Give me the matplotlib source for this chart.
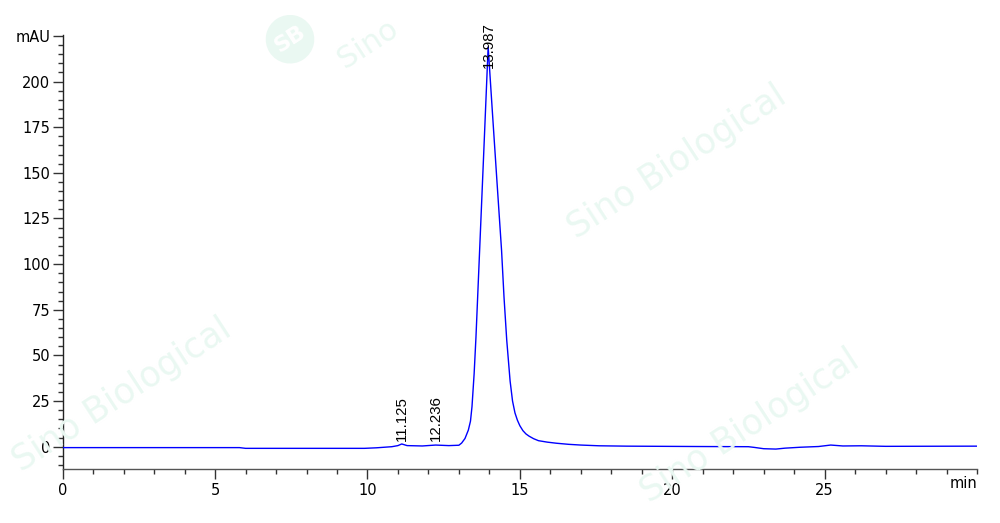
import matplotlib
matplotlib.use("Agg")
import matplotlib.pyplot as plt
from matplotlib.ticker import MultipleLocator, FixedLocator

# Chromatogram trace (time in min, absorbance in mAU)
time_min = [0.0, 5.8, 6.0, 9.9, 10.3, 10.8, 11.0, 11.125, 11.3, 11.8, 12.236,
            12.67, 13.0, 13.09, 13.2, 13.31, 13.38, 13.43, 13.5, 13.56, 13.68,
            13.82, 13.96, 14.10, 14.25, 14.40, 14.48, 14.57, 14.68, 14.76,
            14.84, 14.92, 15.0, 15.1, 15.2, 15.3, 15.45, 15.61, 15.9, 16.2,
            16.6, 17.0, 17.6, 18.5, 20.85, 22.5, 22.7, 23.0, 23.4, 23.7, 24.2,
            24.8, 25.2, 25.6, 26.2, 27.0, 30.0]
signal_mau = [-0.5, -0.5, -0.9, -0.9, -0.6, 0.0, 0.6, 1.5, 0.6, 0.4, 0.9,
              0.6, 0.8, 2.0, 4.5, 9.1, 14.0, 22.0, 40.0, 60.0, 107.5,
              163.0, 219.0, 183.0, 145.0, 107.5, 82.0, 58.3, 36.0, 25.0,
              18.5, 14.5, 11.5, 8.8, 7.0, 5.8, 4.4, 3.3, 2.5, 1.9,
              1.3, 0.9, 0.5, 0.3, 0.1, 0.0, -0.4, -1.1, -1.3, -0.8, -0.3,
              0.1, 0.9, 0.4, 0.5, 0.2, 0.3]

peak_times = [11.125, 12.236, 13.987]
peak_labels = ["11.125", "12.236", "13.987"]
label_heights = [3.2, 3.2, 207.5]

y_ticks = [0, 25, 50, 75, 100, 125, 150, 175, 200, 225]
y_tick_labels = ["0", "25", "50", "75", "100", "125", "150", "175", "200", "mAU"]
x_ticks = [0, 5, 10, 15, 20, 25]
x_tick_labels = ["0", "5", "10", "15", "20", "25"]

fig = plt.figure(figsize=(10, 5.23), dpi=100)
ax = fig.add_axes([0.0627, 0.1033, 0.977 - 0.0627, 0.9331 - 0.1033])

# Watermarks
wm_color = "#eaf8f2"
wm = dict(color=wm_color, rotation=33, ha="center", va="center",
          family="DejaVu Sans", zorder=0, transform=fig.transFigure)
fig.text(0.677, 0.69, "Sino Biological", fontsize=25, **wm)
fig.text(0.122, 0.245, "Sino Biological", fontsize=25, **wm)
fig.text(0.75, 0.185, "Sino Biological", fontsize=25, **wm)
fig.text(0.368, 0.915, "Sino", fontsize=22, **wm)
fig.text(0.29, 0.925, "SB", fontsize=16, fontweight="bold", color="white",
         rotation=33, ha="center", va="center", zorder=1,
         transform=fig.transFigure,
         bbox=dict(boxstyle="circle,pad=0.35", fc=wm_color, ec="none"))

ax.patch.set_alpha(0)
ax.plot(time_min, signal_mau, color="#0000ff", lw=1.0, zorder=3)

for t, lab, h in zip(peak_times, peak_labels, label_heights):
    ax.text(t, h, lab, rotation=90, ha="center", va="bottom",
            fontsize=10.8, family="Liberation Sans", color="black", zorder=4)

ax.set_xlim(0, 30)
ax.set_ylim(-12.2, 225.5)

ax.xaxis.set_major_locator(FixedLocator(x_ticks))
ax.set_xticklabels(x_tick_labels)
ax.xaxis.set_minor_locator(MultipleLocator(1))
ax.yaxis.set_major_locator(FixedLocator(y_ticks))
ax.set_yticklabels(y_tick_labels)
ax.yaxis.set_minor_locator(MultipleLocator(5))

ax.tick_params(axis="both", which="major", direction="out", length=7,
               width=1.0, color="#333333", labelsize=10.5, pad=2)
ax.tick_params(axis="both", which="minor", direction="out", length=3.5,
               width=1.0, color="#333333")
ax.tick_params(axis="x", which="major", pad=3)

for s in ["top", "right"]:
    ax.spines[s].set_visible(False)
ax.spines["left"].set_color("#222222")
ax.spines["bottom"].set_color("#555555")
ax.spines["left"].set_linewidth(1.0)
ax.spines["bottom"].set_linewidth(1.0)

ax.text(29.55, -15.8, "min", ha="center", va="top", fontsize=10.5)

fig.savefig("out.png", dpi=100)
